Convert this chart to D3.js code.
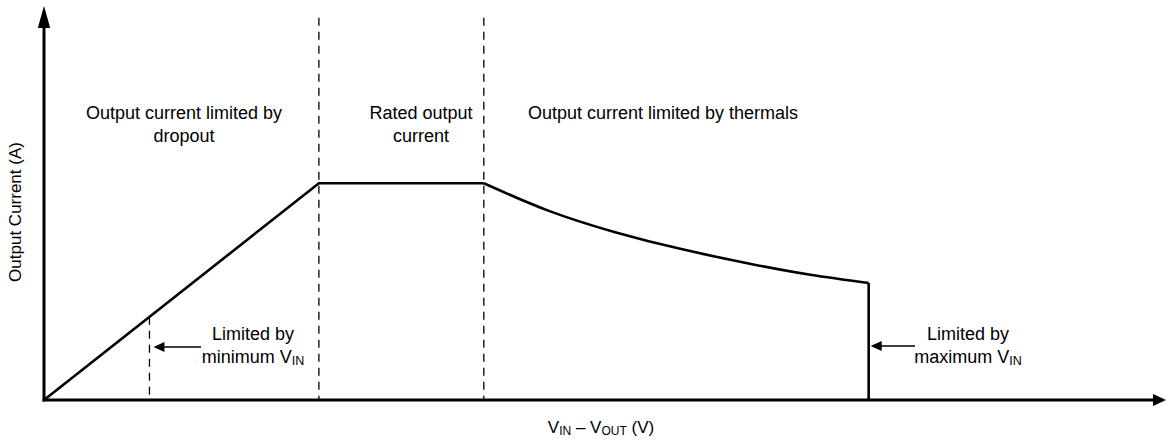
<!DOCTYPE html>
<html>
<head>
<meta charset="utf-8">
<script src="https://cdn.jsdelivr.net/npm/d3@7"></script>
<style>
  html, body { margin: 0; padding: 0; background: #fff; }
  text { font-family: "Liberation Sans", Arial, Helvetica, sans-serif; fill: #000; }
</style>
</head>
<body>
<svg id="chart"></svg>
<script>
// data (arbitrary units, no ticks on the original)
const xDomain = [0, 10]
const yDomain = [0, 10]
const risePoints = [[0, 0], [2.45, 5.5], [3.92, 5.5]]
const thermalPoints = [[3.92, 5.5], [4.5, 4.8], [5.09, 4.26], [5.68, 3.83], [6.29, 3.46], [6.83, 3.18], [7.35, 2.97]]
const dropPoints = [[7.35, 2.97], [7.35, 0]]
const boundaries = [0.94, 2.45, 3.92]
const boundaryTop = 9.7
const regionLabels = [
	["Output current limited by", "dropout"],
	["Rated output", "current"],
	["Output current limited by thermals"],
]
const yTitle = "Output Current (A)"

const width = 1167
const height = 447
const svg = d3.select("#chart").attr("width", width).attr("height", height)

const x = d3.scaleLinear().domain(xDomain).range([44, 1166])
const y = d3.scaleLinear().domain(yDomain).range([400, 6])

const line = d3.line().x(d => x(d[0])).y(d => y(d[1]))
const curve = d3.line().x(d => x(d[0])).y(d => y(d[1])).curve(d3.curveNatural)

// boundary dashed lines
const riseSlope = risePoints[1][1] / risePoints[1][0]
boundaries.forEach((b, i) => {
	const top = i === 0 ? b * riseSlope : boundaryTop
	svg.append("line")
		.attr("x1", x(b)).attr("x2", x(b))
		.attr("y1", y(top)).attr("y2", y(0))
		.attr("stroke", "#000")
		.attr("stroke-width", 1.3)
		.attr("stroke-dasharray", "8,6")
})

// output current curve
svg.append("path").datum(risePoints)
	.attr("d", line).attr("fill", "none").attr("stroke", "#000").attr("stroke-width", 2.6)
	.attr("stroke-linejoin", "miter")
svg.append("path").datum(thermalPoints)
	.attr("d", curve).attr("fill", "none").attr("stroke", "#000").attr("stroke-width", 2.6)
svg.append("path").datum(dropPoints)
	.attr("d", line).attr("fill", "none").attr("stroke", "#000").attr("stroke-width", 2.6)

// axes with arrow heads
const x0 = x(0), y0 = y(0)
svg.append("line").attr("x1", x0).attr("x2", x0).attr("y1", y0 + 1.5).attr("y2", y(yDomain[1]) + 15)
	.attr("stroke", "#000").attr("stroke-width", 3)
svg.append("path")
	.attr("d", `M${x0},${y(yDomain[1])} L${x0 - 6.2},${y(yDomain[1]) + 22} L${x0 + 6.2},${y(yDomain[1]) + 22} Z`)
	.attr("fill", "#000")
svg.append("line").attr("x1", x0 - 1.5).attr("x2", x(xDomain[1]) - 10).attr("y1", y0).attr("y2", y0)
	.attr("stroke", "#000").attr("stroke-width", 3)
svg.append("path")
	.attr("d", `M${x(xDomain[1])},${y0} L${x(xDomain[1]) - 13},${y0 - 6} L${x(xDomain[1]) - 13},${y0 + 6} Z`)
	.attr("fill", "#000")

// region labels
const fs = 18
const regionX = [184, 421, 663]
regionLabels.forEach((lines, i) => {
	const t = svg.append("text").attr("text-anchor", "middle").attr("font-size", fs)
	lines.forEach((s, j) => {
		t.append("tspan").attr("x", regionX[i]).attr("y", 119 + j * 23).text(s)
	})
})

// annotation arrows
function arrow(tipX, tailX, ay) {
	svg.append("line").attr("x1", tipX + 8).attr("x2", tailX).attr("y1", ay).attr("y2", ay)
		.attr("stroke", "#000").attr("stroke-width", 1.3)
	svg.append("path")
		.attr("d", `M${tipX},${ay} L${tipX + 11},${ay - 5} L${tipX + 11},${ay + 5} Z`)
		.attr("fill", "#000")
}
arrow(x(boundaries[0]) + 4, 201, 347)
arrow(x(dropPoints[0][0]) + 2, 915, 346)

function note(cx, by, prefix) {
	svg.append("text").attr("text-anchor", "middle").attr("font-size", fs)
		.attr("x", cx).attr("y", by).text("Limited by")
	const t = svg.append("text").attr("text-anchor", "middle").attr("font-size", fs)
		.attr("x", cx).attr("y", by + 23)
	t.append("tspan").text(prefix + " V")
	t.append("tspan").attr("font-size", 12.5).attr("dy", 2).text("IN")
}
note(253, 340, "minimum")
note(968, 340, "maximum")

// axis titles
const xt = svg.append("text").attr("text-anchor", "middle").attr("font-size", 17)
	.attr("x", 601).attr("y", 433)
xt.append("tspan").text("V")
xt.append("tspan").attr("font-size", 12).attr("dy", 2).text("IN")
xt.append("tspan").attr("dy", -2).text(" \u2013 V")
xt.append("tspan").attr("font-size", 12).attr("dy", 2).text("OUT")
xt.append("tspan").attr("dy", -2).text(" (V)")

svg.append("text").attr("text-anchor", "middle").attr("font-size", 17)
	.attr("transform", `translate(21,212) rotate(-90)`)
	.text(yTitle)
</script>
</body>
</html>
